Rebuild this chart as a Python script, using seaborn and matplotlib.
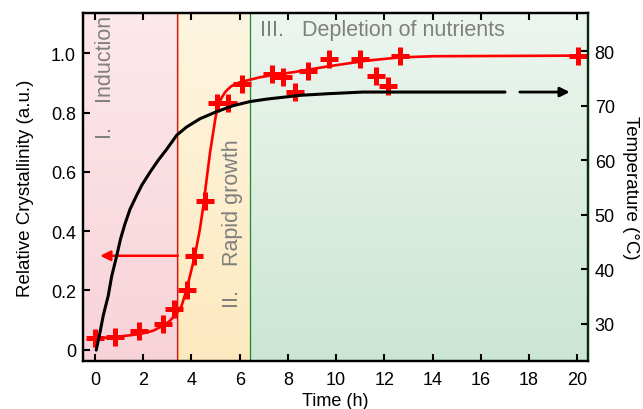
import numpy as np
import pandas as pd
import matplotlib
matplotlib.use("Agg")
import matplotlib.pyplot as plt
import seaborn as sns

sns.set_theme(style="white")
plt.rcParams["font.family"] = ["Liberation Sans", "DejaVu Sans"]

# Measured relative crystallinity
time_pts = [0.0, 0.83, 1.84, 2.8, 3.29, 3.8, 4.12, 4.56, 5.04, 5.53, 6.08,
            7.35, 7.8, 8.29, 8.84, 9.7, 10.98, 11.67, 12.16, 12.64, 20.03]
cryst_pts = [0.04, 0.044, 0.064, 0.087, 0.137, 0.2, 0.315, 0.503, 0.832, 0.832, 0.896,
             0.93, 0.92, 0.868, 0.94, 0.98, 0.98, 0.924, 0.89, 0.99, 0.99]

# Fitted crystallinity curve
fit_time = [-0.2, 0.76, 1.86, 2.4, 2.83, 3.1, 3.3, 3.45, 3.59, 3.73, 3.87, 4.0,
            4.14, 4.35, 4.5, 4.63, 4.77, 4.9, 5.0, 5.11, 5.25, 5.39, 5.5, 5.67,
            6.0, 6.84, 7.5, 8.22, 9.6, 11.26, 12.64, 14.0, 20.0]
fit_cryst = [0.038, 0.042, 0.053, 0.064, 0.081, 0.097, 0.115, 0.13, 0.148, 0.185,
             0.227, 0.27, 0.317, 0.407, 0.49, 0.576, 0.665, 0.733, 0.785, 0.823,
             0.85, 0.868, 0.878, 0.89, 0.902, 0.919, 0.928, 0.936, 0.955, 0.975,
             0.986, 0.99, 0.992]

# Reactor temperature profile
temp_time = [0.05, 0.21, 0.34, 0.55, 0.69, 0.9, 1.06, 1.24, 1.45, 1.73, 1.95,
             2.28, 2.62, 2.97, 3.39, 3.8, 4.35, 5.04, 5.73, 6.42, 7.11, 8.5,
             9.67, 11.1, 17.0]
temp_vals = [25.2, 28.5, 31.5, 35.2, 38.7, 42.5, 45.6, 48.3, 51.0, 53.6, 55.5,
             57.8, 60.0, 62.0, 64.6, 66.1, 67.6, 68.9, 70.0, 70.75, 71.2, 71.9,
             72.2, 72.5, 72.5]

# Stage boundaries (h)
stage_edges = [-0.5, 3.39, 6.44, 20.43]
stage_top = ["#fde8eb", "#fdf5e1", "#edf6ef"]
stage_bottom = ["#f7d3d9", "#fde9bf", "#cbe6d4"]
stage_lines = ["#d0103a", "#1a8a2a"]

xlim = (-0.5, 20.43)
ylim = (-0.038, 1.136)
tlim = (23.2, 87.0)

fig = plt.figure(figsize=(6.43, 4.10), dpi=100)
ax = fig.add_axes([0.129, 0.117, 0.785, 0.849])

def hex2rgb(h):
    h = h.lstrip("#")
    return np.array([int(h[i:i + 2], 16) / 255 for i in (0, 2, 4)])

# Gradient backgrounds for each stage
for i in range(3):
    top, bot = hex2rgb(stage_top[i]), hex2rgb(stage_bottom[i])
    t = np.linspace(0, 1, 256)[:, None]
    grad = (top[None, :] * (1 - t) + bot[None, :] * t)[:, None, :]
    ax.imshow(grad, extent=[stage_edges[i], stage_edges[i + 1], ylim[0], ylim[1]],
              aspect="auto", origin="upper", zorder=0, interpolation="bilinear")

ax.axvline(stage_edges[1], color=stage_lines[0], lw=0.9, zorder=1)
ax.axvline(stage_edges[1] + 0.06, color="#f0a020", lw=0.6, zorder=1)
ax.axvline(stage_edges[2], color=stage_lines[1], lw=0.9, zorder=1)

fit_df = pd.DataFrame({"t": fit_time, "c": fit_cryst})
pts_df = pd.DataFrame({"t": time_pts, "c": cryst_pts})
sns.lineplot(data=fit_df, x="t", y="c", ax=ax, color="#ff0000", lw=1.9,
             sort=False, estimator=None, zorder=3)
sns.scatterplot(data=pts_df, x="t", y="c", ax=ax, marker="+", s=180,
                color="#ff0000", linewidth=3.6, zorder=4)

# Arrow pointing toward the crystallinity axis
ax.annotate("", xy=(0.1, 0.317), xytext=(3.55, 0.317),
            arrowprops=dict(arrowstyle="-|>", color="#ff0000", lw=1.8,
                            mutation_scale=15), zorder=5)

ax.set_xlim(*xlim)
ax.set_ylim(*ylim)
ax.set_xticks(range(0, 21, 2))
ax.set_yticks([0, 0.2, 0.4, 0.6, 0.8, 1.0])
ax.set_yticklabels(["0", "0.2", "0.4", "0.6", "0.8", "1.0"])
ax.tick_params(axis="both", direction="in", length=5, width=1.5, labelsize=13,
               color="black", labelcolor="black")
ax.tick_params(axis="x", top=True, bottom=True, pad=7)
ax.tick_params(axis="y", left=True, right=False, pad=5)
ax.set_xlabel("Time (h)", fontsize=13, labelpad=3, color="black")
ax.set_ylabel("Relative Crystallinity (a.u.)", fontsize=13.5, labelpad=12,
              color="black")

# Stage annotations
gray = "#7f7f7f"
ax.text(0.42, 1.128, "I.    Induction", rotation=90, ha="center", va="top",
        fontsize=15.5, color=gray, zorder=2)
ax.text(5.72, 0.43, "II.    Rapid growth", rotation=90, ha="center", va="center",
        fontsize=15.5, color=gray, zorder=2)
ax.text(6.83, 1.08, "III.   Depletion of nutrients", ha="left", va="center",
        fontsize=15.5, color=gray, zorder=2)

# Temperature on the right axis
ax2 = ax.twinx()
temp_df = pd.DataFrame({"t": temp_time, "T": temp_vals})
sns.lineplot(data=temp_df, x="t", y="T", ax=ax2, color="black", lw=2.2,
             sort=False, estimator=None)
ax2.annotate("", xy=(19.8, 72.5), xytext=(17.5, 72.5),
             arrowprops=dict(arrowstyle="-|>", color="black", lw=2.0,
                             mutation_scale=14))
ax2.set_ylim(*tlim)
ax2.set_xlim(*xlim)
ax2.set_yticks([30, 40, 50, 60, 70, 80])
ax2.tick_params(axis="y", direction="in", length=5, width=1.5, labelsize=13,
                color="black", labelcolor="black", pad=5, right=True)
ax2.set_ylabel("Temperature (\u00b0C)", rotation=-90, fontsize=13.5, labelpad=17,
               color="black")
ax2.grid(False)
ax.grid(False)

for a in (ax, ax2):
    for sp in a.spines.values():
        sp.set_color("black")
        sp.set_linewidth(1.6)
    a.spines["right"].set_color("#0b2a12")

fig.savefig("out.png", dpi=100)
